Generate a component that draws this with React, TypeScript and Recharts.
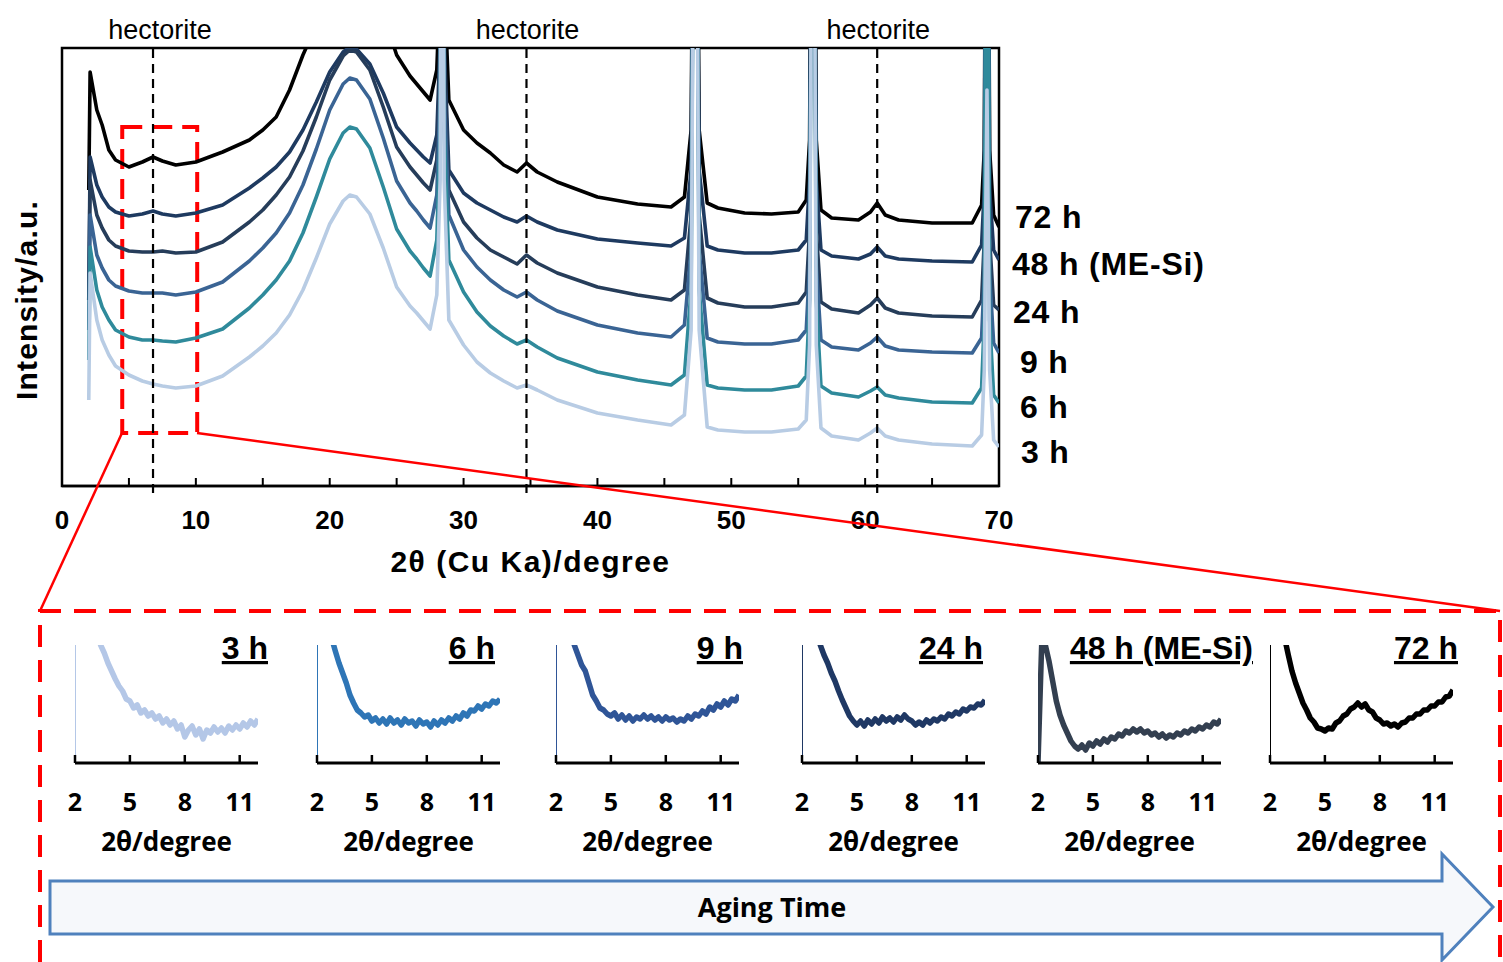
import React from 'react';
import { LineChart, Line, XAxis, YAxis, ReferenceLine, ReferenceArea } from 'recharts';

const ARIAL = "'Liberation Sans', Arial, Helvetica, sans-serif";
const OPEN = "'Open Sans', 'DejaVu Sans', sans-serif";

// ---------- main XRD patterns (2θ in degrees, intensity in a.u., offset stacked) ----------
const TWO_THETA = [
  2.0, 2.1, 2.6, 3, 3.5, 4, 5, 6, 6.8, 7.5,
  8.5, 10, 12, 14, 15, 16, 17, 18, 19, 20,
  21, 21.5, 22, 23, 24, 25, 26, 26.5, 27, 27.5,
  28, 28.25, 28.4, 28.55, 28.9, 30, 31, 32, 33, 34,
  34.7, 35.5, 37, 40, 43, 45.5, 46.5, 47, 47.3, 47.6,
  48.2, 49, 51, 53, 55, 55.6, 55.85, 56.1, 56.35, 56.7,
  57.5, 59.5, 60.4, 60.9, 61.5, 62.5, 65, 68, 68.7, 68.9,
  69.1, 69.3, 69.6, 70,
];

const I_72H = [
  296, 414, 376, 361, 336, 326, 319, 324, 329, 325,
  321, 324, 334, 346, 356, 369, 396, 431, 461, 498,
  523, 529, 527, 508, 472, 431, 410, 402, 394, 386,
  416, 506, 900, 506, 386, 356, 343, 333, 321, 314,
  323, 314, 304, 289, 282, 279, 289, 356, 900, 356,
  283, 278, 273, 272, 274, 286, 346, 900, 346, 276,
  268, 266, 274, 283, 271, 266, 263, 263, 281, 336,
  900, 336, 271, 259,
];

const I_48H = [
  186, 329, 301, 289, 279, 274, 270, 272, 275, 272,
  270, 273, 281, 298, 308, 319, 334, 356, 384, 414,
  434, 439, 437, 422, 393, 359, 343, 336, 329, 323,
  351, 446, 900, 446, 316, 293, 283, 276, 269, 264,
  270, 264, 256, 247, 243, 240, 248, 316, 900, 316,
  240, 236, 233, 233, 236, 246, 306, 900, 306, 236,
  230, 227, 232, 239, 230, 227, 225, 224, 241, 296,
  900, 296, 236, 226,
];

const I_24H = [
  186, 306, 271, 258, 246, 240, 235, 234, 234, 235,
  233, 234, 244, 264, 276, 291, 309, 335, 369, 406,
  430, 436, 434, 416, 379, 339, 319, 311, 303, 296,
  326, 426, 900, 426, 296, 264, 248, 236, 229, 222,
  231, 223, 213, 199, 191, 186, 196, 271, 900, 271,
  188, 183, 179, 179, 183, 194, 256, 900, 256, 184,
  177, 173, 181, 188, 178, 173, 170, 169, 186, 246,
  900, 246, 181, 176,
];

const I_9H = [
  156, 271, 231, 218, 206, 200, 195, 193, 193, 193,
  191, 194, 204, 225, 238, 253, 273, 301, 337, 376,
  402, 408, 406, 387, 348, 305, 283, 275, 266, 258,
  291, 396, 900, 396, 271, 236, 219, 206, 196, 189,
  194, 186, 175, 161, 153, 149, 161, 236, 900, 236,
  148, 144, 142, 142, 146, 156, 221, 900, 221, 146,
  139, 136, 143, 149, 140, 136, 134, 133, 148, 211,
  900, 211, 143, 133,
];

const I_6H = [
  126, 239, 196, 179, 166, 156, 149, 146, 146, 145,
  144, 148, 157, 178, 191, 206, 225, 253, 289, 327,
  353, 359, 357, 338, 299, 257, 235, 227, 218, 210,
  246, 356, 900, 356, 226, 194, 174, 160, 150, 142,
  146, 139, 128, 114, 106, 101, 111, 196, 900, 196,
  101, 98, 96, 96, 100, 110, 186, 900, 186, 100,
  93, 89, 95, 99, 91, 88, 84, 83, 98, 166,
  900, 166, 91, 83,
];

const I_3H = [
  86, 213, 166, 146, 131, 120, 111, 105, 102, 100,
  98, 100, 110, 129, 140, 153, 171, 196, 228, 262,
  285, 291, 289, 272, 238, 199, 180, 173, 165, 157,
  191, 306, 900, 306, 166, 141, 124, 113, 105, 98,
  101, 96, 86, 73, 66, 61, 71, 156, 900, 156,
  59, 56, 54, 54, 57, 66, 141, 900, 141, 58,
  50, 46, 53, 58, 50, 46, 42, 40, 51, 116,
  396, 116, 46, 39,
];

const SERIES_NAMES = ['72 h', '48 h (ME-Si)', '24 h', '9 h', '6 h', '3 h'];
const SERIES_KEYS = ['h72', 'h48', 'h24', 'h9', 'h6', 'h3'];
const SERIES_COLORS = ['#000000', '#1e3a60', '#263d5a', '#3a6494', '#2f8a9b', '#b8cce4'];
const SERIES_VALUES = [I_72H, I_48H, I_24H, I_9H, I_6H, I_3H];

const MAIN_TICKS = [0, 5, 10, 15, 20, 25, 30, 35, 40, 45, 50, 55, 60, 65, 70];
const HECTORITE_2THETA = [6.8, 34.7, 60.9];
const HECTORITE_LABEL_DX = [7, 1, 1];
const ZOOM_BOX = { x1: 4.5, x2: 10.1, y1: 53, y2: 359 };

// ---------- low-angle insets (2θ 2–12°) ----------
const INSET_X = [
  2, 2.2, 2.4, 2.6, 2.8, 3, 3.2, 3.4, 3.6, 3.8,
  4, 4.2, 4.4, 4.6, 4.8, 5, 5.2, 5.4, 5.6, 5.8,
  6, 6.2, 6.4, 6.6, 6.8, 7, 7.2, 7.4, 7.6, 7.8,
  8, 8.2, 8.4, 8.6, 8.8, 9, 9.2, 9.4, 9.6, 9.8,
  10, 10.2, 10.4, 10.6, 10.8, 11, 11.2, 11.4, 11.6, 11.8,
  12,
];
const Z_3H = [
  160, 160, 160, 160, 150, 140, 128, 118, 110, 100,
  92, 84, 77, 72, 64, 62, 55, 58, 50, 53,
  47, 50, 44, 47, 40, 44, 38, 42, 34, 38,
  26, 33, 37, 28, 34, 24, 33, 30, 36, 31,
  35, 30, 37, 33, 38, 34, 40, 36, 42, 38,
  44,
];
const Z_6H = [
  160, 160, 160, 160, 125, 112, 100, 90, 80, 68,
  60, 53, 50, 46, 48, 42, 45, 40, 44, 39,
  45, 40, 43, 38, 44, 40, 42, 37, 43, 39,
  41, 36, 42, 38, 43, 40, 45, 42, 47, 44,
  50, 47, 53, 52, 57, 54, 59, 57, 62, 60,
  64,
];
const Z_9H = [
  160, 160, 160, 160, 130, 118, 108, 98, 92, 80,
  68, 62, 55, 53, 49, 47, 50, 44, 48, 43,
  47, 42, 46, 44, 48, 44, 47, 43, 46, 42,
  46, 43, 45, 41, 44, 42, 47, 44, 49, 47,
  52, 49, 56, 53, 59, 56, 62, 58, 64, 62,
  68,
];
const Z_24H = [
  160, 160, 160, 160, 130, 118, 108, 100, 90, 82,
  72, 63, 55, 47, 42, 38, 42, 37, 43, 39,
  44, 40, 46, 42, 45, 41, 46, 43, 48, 44,
  42, 38, 41, 38, 43, 40, 44, 42, 46, 44,
  49, 47, 51, 49, 54, 52, 56, 55, 59, 58,
  63,
];
const Z_48H = [
  0, 118, 118, 102, 82, 62, 48, 38, 30, 22,
  17, 14, 18, 13, 20, 17, 22, 19, 24, 21,
  26, 24, 29, 27, 32, 30, 34, 31, 34, 30,
  32, 28, 30, 26, 29, 25, 28, 26, 30, 28,
  32, 30, 34, 32, 36, 34, 38, 36, 41, 39,
  44,
];
const Z_72H = [
  160, 160, 160, 160, 125, 108, 92, 80, 70, 60,
  53, 45, 41, 35, 34, 32, 35, 34, 40, 42,
  47, 49, 54, 56, 60, 56, 59, 53, 51, 45,
  43, 39, 40, 37, 39, 36, 40, 41, 45, 45,
  49, 49, 53, 53, 57, 57, 61, 61, 66, 67,
  73,
];
const RISE_X = [2, 2];
const RISE_Y = [0, 160];

const INSET_TITLES = ['3 h', '6 h', '9 h', '24 h', '48 h (ME-Si)', '72 h'];
const INSET_COLORS = ['#b4c7e7', '#2e75b6', '#2f5597', '#1f3864', '#333f50', '#000000'];
const INSET_VALUES = [Z_3H, Z_6H, Z_9H, Z_24H, Z_48H, Z_72H];
const INSET_HAS_RISE = [true, true, true, true, false, true];
const INSET_TICKS = [2, 5, 8, 11];

// layout constants (pixels)
const INSET_LEFTS = [75, 317, 556, 802, 1038, 1270];
const INSET_TITLE_RIGHT = [268, 495, 743, 983, 1253, 1458];
const LABEL_POS = [
  { x: 1015, y: 228 },
  { x: 1012, y: 275 },
  { x: 1013, y: 323 },
  { x: 1020, y: 373 },
  { x: 1020, y: 418 },
  { x: 1021, y: 463 },
];

const mainData = TWO_THETA.map((x, i) => {
  const row: Record<string, number> = { x };
  SERIES_KEYS.forEach((k, s) => {
    row[k] = SERIES_VALUES[s][i];
  });
  return row;
});

function MainChart() {
  return (
    <div style={{ position: 'absolute', left: 0, top: 0 }}>
      <LineChart
        width={1503}
        height={600}
        data={mainData}
        margin={{ top: 48, right: 504, bottom: 26, left: 62 }}
      >
        <XAxis
          dataKey="x"
          type="number"
          domain={[0, 70]}
          ticks={MAIN_TICKS}
          allowDataOverflow
          interval={0}
          tickFormatter={(v: number) => (v % 10 === 0 ? String(v) : '')}
          tickSize={-8}
          tickMargin={33}
          height={88}
          axisLine={{ stroke: '#000', strokeWidth: 2.5 }}
          tickLine={{ stroke: '#000', strokeWidth: 2 }}
          tick={{ fill: '#000', fontSize: 26, fontWeight: 700, fontFamily: ARIAL }}
          label={{
            value: '2θ (Cu Ka)/degree',
            position: 'insideBottom',
            offset: 2,
            fill: '#000',
            fontSize: 30,
            fontWeight: 700,
            fontFamily: ARIAL,
            letterSpacing: 1.5,
          }}
        />
        <YAxis type="number" domain={[0, 438]} allowDataOverflow hide />
        <ReferenceArea
          x1={0}
          x2={70}
          y1={0}
          y2={438}
          fill="none"
          fillOpacity={0}
          stroke="#000"
          strokeWidth={2.5}
          ifOverflow="visible"
        />
        {SERIES_KEYS.map((k, s) => (
          <Line
            key={k}
            type="linear"
            dataKey={k}
            name={SERIES_NAMES[s]}
            stroke={SERIES_COLORS[s]}
            strokeWidth={3.6}
            strokeLinejoin="round"
            dot={false}
            activeDot={false}
            isAnimationActive={false}
          />
        ))}
        {HECTORITE_2THETA.map((h, i) => (
          <ReferenceLine
            key={h}
            segment={[
              { x: h, y: -7 },
              { x: h, y: 441 },
            ]}
            stroke="#000"
            strokeWidth={2.2}
            strokeDasharray="9 6"
            ifOverflow="visible"
            label={{
              value: 'hectorite',
              position: 'top',
              offset: 6,
              dx: HECTORITE_LABEL_DX[i],
              fill: '#000',
              fontSize: 27,
              fontFamily: ARIAL,
            }}
          />
        ))}
        <ReferenceArea
          x1={ZOOM_BOX.x1}
          x2={ZOOM_BOX.x2}
          y1={ZOOM_BOX.y1}
          y2={ZOOM_BOX.y2}
          fill="none"
          fillOpacity={0}
          stroke="#ff0000"
          strokeWidth={4}
          strokeDasharray="20 10"
          ifOverflow="visible"
        />
      </LineChart>
    </div>
  );
}

function Inset({ idx }: { idx: number }) {
  const color = INSET_COLORS[idx];
  const data = INSET_X.map((x, i) => ({ x, y: INSET_VALUES[idx][i] }));
  const rise = RISE_X.map((x, i) => ({ x, y: RISE_Y[i] }));
  return (
    <div style={{ position: 'absolute', left: INSET_LEFTS[idx] - 40, top: 600 }}>
      <LineChart width={263} height={270} margin={{ top: 45, right: 40, bottom: 17, left: 40 }}>
        <XAxis
          dataKey="x"
          type="number"
          domain={[2, 12]}
          ticks={INSET_TICKS}
          interval={0}
          allowDataOverflow
          tickSize={-8}
          tickMargin={38}
          height={90}
          axisLine={{ stroke: '#000', strokeWidth: 3 }}
          tickLine={{ stroke: '#000', strokeWidth: 2.5 }}
          tick={{ fill: '#000', fontSize: 25, fontWeight: 700, fontFamily: OPEN }}
          label={{
            value: '2θ/degree',
            position: 'insideBottom',
            offset: 2,
            fill: '#000',
            fontSize: 26,
            fontWeight: 700,
            fontFamily: OPEN,
          }}
        />
        <YAxis type="number" domain={[0, 118]} allowDataOverflow hide />
        {INSET_HAS_RISE[idx] && (
          <Line
            data={rise}
            dataKey="y"
            type="linear"
            stroke={color}
            strokeWidth={2}
            dot={false}
            activeDot={false}
            isAnimationActive={false}
          />
        )}
        <Line
          data={data}
          dataKey="y"
          type="linear"
          stroke={color}
          strokeWidth={5.5}
          strokeLinejoin="round"
          dot={false}
          activeDot={false}
          isAnimationActive={false}
        />
      </LineChart>
    </div>
  );
}

function Overlay() {
  return (
    <svg
      width={1503}
      height={962}
      style={{ position: 'absolute', left: 0, top: 0, pointerEvents: 'none' }}
    >
      <line x1={122} y1={433} x2={40} y2={611} stroke="#ff0000" strokeWidth={2.5} />
      <line x1={197} y1={433} x2={1500} y2={611} stroke="#ff0000" strokeWidth={2.5} />
      <path
        d="M40 962 L40 611 L1500 611 L1500 962"
        fill="none"
        stroke="#ff0000"
        strokeWidth={4}
        strokeDasharray="22 13"
      />
      <path
        d="M50 881 L1442 881 L1442 854 L1493 907 L1442 960 L1442 934 L50 934 Z"
        fill="#f6f8fb"
        stroke="#4f81bd"
        strokeWidth={3}
      />
      <text
        x={772}
        y={917}
        textAnchor="middle"
        fontFamily={OPEN}
        fontWeight={700}
        fontSize={27}
        fill="#000"
      >
        Aging Time
      </text>
      <text
        x={37}
        y={300}
        transform="rotate(-90 37 300)"
        textAnchor="middle"
        fontFamily={ARIAL}
        fontWeight={700}
        fontSize={30}
        letterSpacing={1.2}
        fill="#000"
      >
        Intensity/a.u.
      </text>
      {SERIES_NAMES.map((n, i) => (
        <text
          key={n}
          x={LABEL_POS[i].x}
          y={LABEL_POS[i].y}
          fontFamily={ARIAL}
          fontWeight={700}
          fontSize={32}
          letterSpacing={0.8}
          fill="#000"
        >
          {n}
        </text>
      ))}
      {INSET_TITLES.map((t, i) => (
        <text
          key={t}
          x={INSET_TITLE_RIGHT[i]}
          y={659}
          textAnchor="end"
          fontFamily={ARIAL}
          fontWeight={700}
          fontSize={32}
          fill="#000"
          textDecoration="underline"
        >
          {t}
        </text>
      ))}
    </svg>
  );
}

export default function App() {
  return (
    <div
      style={{
        position: 'absolute',
        left: 0,
        top: 0,
        width: 1503,
        height: 962,
        overflow: 'hidden',
        background: '#ffffff',
      }}
    >
      <MainChart />
      {INSET_TITLES.map((t, i) => (
        <Inset key={t} idx={i} />
      ))}
      <Overlay />
    </div>
  );
}
